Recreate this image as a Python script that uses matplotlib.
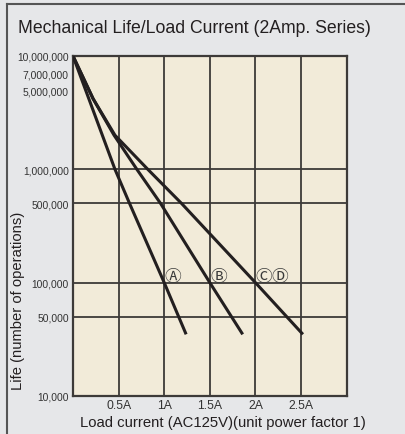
import numpy as np
import matplotlib
matplotlib.use("Agg")
import matplotlib.pyplot as plt
from matplotlib.lines import Line2D

# data (load current in A, life in operations)
a_current = [0, 0.46, 0.62, 1.0, 1.24]
a_life = [1e7, 1e6, 5e5, 1e5, 3.5e4]
b_current = [0, 0.22, 0.45, 0.70, 0.96, 1.5, 1.86]
b_life = [1e7, 4.2e6, 2.0e6, 1e6, 5e5, 1e5, 3.5e4]
cd_current = [0, 0.22, 0.46, 0.82, 1.19, 2.0, 2.52]
cd_life = [1e7, 4.2e6, 2.0e6, 1e6, 5e5, 1e5, 3.5e4]

x_ticks = [0.5, 1.0, 1.5, 2.0, 2.5]
x_ticklabels = ["0.5A", "1A", "1.5A", "2A", "2.5A"]
y_ticks = [1e4, 5e4, 1e5, 5e5, 1e6, 5e6, 7e6, 1e7]
y_ticklabels = ["10,000", "50,000", "100,000", "500,000", "1,000,000",
                "5,000,000", "7,000,000", "10,000,000"]
y_grid = [5e4, 1e5, 5e5, 1e6]

# circled labels: (text, anchor current, anchor life, offset px)
tags = [("Ⓐ", 1.0, 1e5, 8.5), ("Ⓑ", 1.5, 1e5, 8.5),
        ("Ⓒ", 2.0, 1e5, 8.5), ("Ⓓ", 2.0, 1e5, 24.5)]

plt.rcParams["font.family"] = ["Liberation Sans", "DejaVu Sans"]

bg = "#e6e7e9"
plot_bg = "#f2ebd9"
grid_c = "#3d3a38"
line_c = "#231f20"

fig = plt.figure(figsize=(4.05, 4.35), dpi=100, facecolor=bg)
ax = fig.add_axes([73 / 405, 1 - 397 / 435, (346.7 - 73) / 405, 340 / 435])
ax.set_facecolor(plot_bg)
ax.set_yscale("log")
ax.set_xlim(0, 3)
ax.set_ylim(1e4, 1e7)

for xv in x_ticks:
    ax.axvline(xv, color=grid_c, lw=1.3, zorder=1)
for yv in y_grid:
    ax.axhline(yv, color=grid_c, lw=1.3, zorder=1)

for xs, ys in [(a_current, a_life), (b_current, b_life), (cd_current, cd_life)]:
    ax.plot(xs, ys, color=line_c, lw=2.2, solid_capstyle="butt",
            solid_joinstyle="round", zorder=3)

for txt, xv, yv, dx in tags:
    ax.annotate(txt, xy=(xv, yv), xytext=(dx, 6.5), textcoords="offset pixels",
                ha="center", va="center", fontsize=12, color="#3a3a3a",
                family=["Noto Sans CJK JP", "Noto Sans CJK SC", "DejaVu Sans"],
                zorder=4)

ax.set_xticks(x_ticks)
ax.set_xticklabels(x_ticklabels, fontsize=8.8, color="#333333")
ax.set_yticks(y_ticks)
ax.set_yticklabels(y_ticklabels, fontsize=7.4, color="#333333",
                   family=["Liberation Sans Narrow", "Liberation Sans"])
ax.yaxis.set_minor_locator(matplotlib.ticker.NullLocator())
ax.tick_params(axis="both", length=0)
ax.tick_params(axis="x", pad=2)
ax.tick_params(axis="y", pad=3)
for sp in ax.spines.values():
    sp.set_color(grid_c)
    sp.set_linewidth(1.6)

fig.text(18 / 405, 1 - 33.3 / 435, "Mechanical Life/Load Current (2Amp. Series)",
         fontsize=12.7, color="#231f20", ha="left", va="baseline")
fig.text(18 / 405, 1 - 301 / 435, "Life (number of operations)", rotation=90,
         fontsize=10.6, color="#231f20", ha="center", va="center")
fig.text(223 / 405, 1 - 423 / 435, "Load current (AC125V)(unit power factor 1)",
         fontsize=10.7, color="#231f20", ha="center", va="center")

# outer frame (left and top edges)
fig.add_artist(Line2D([7 / 405, 7 / 405], [0, 1 - 5 / 435], color="#555555", lw=1.5))
fig.add_artist(Line2D([7 / 405, 1], [1 - 5 / 435, 1 - 5 / 435], color="#555555", lw=1.5))

fig.savefig("out.png", dpi=100, facecolor=bg)
